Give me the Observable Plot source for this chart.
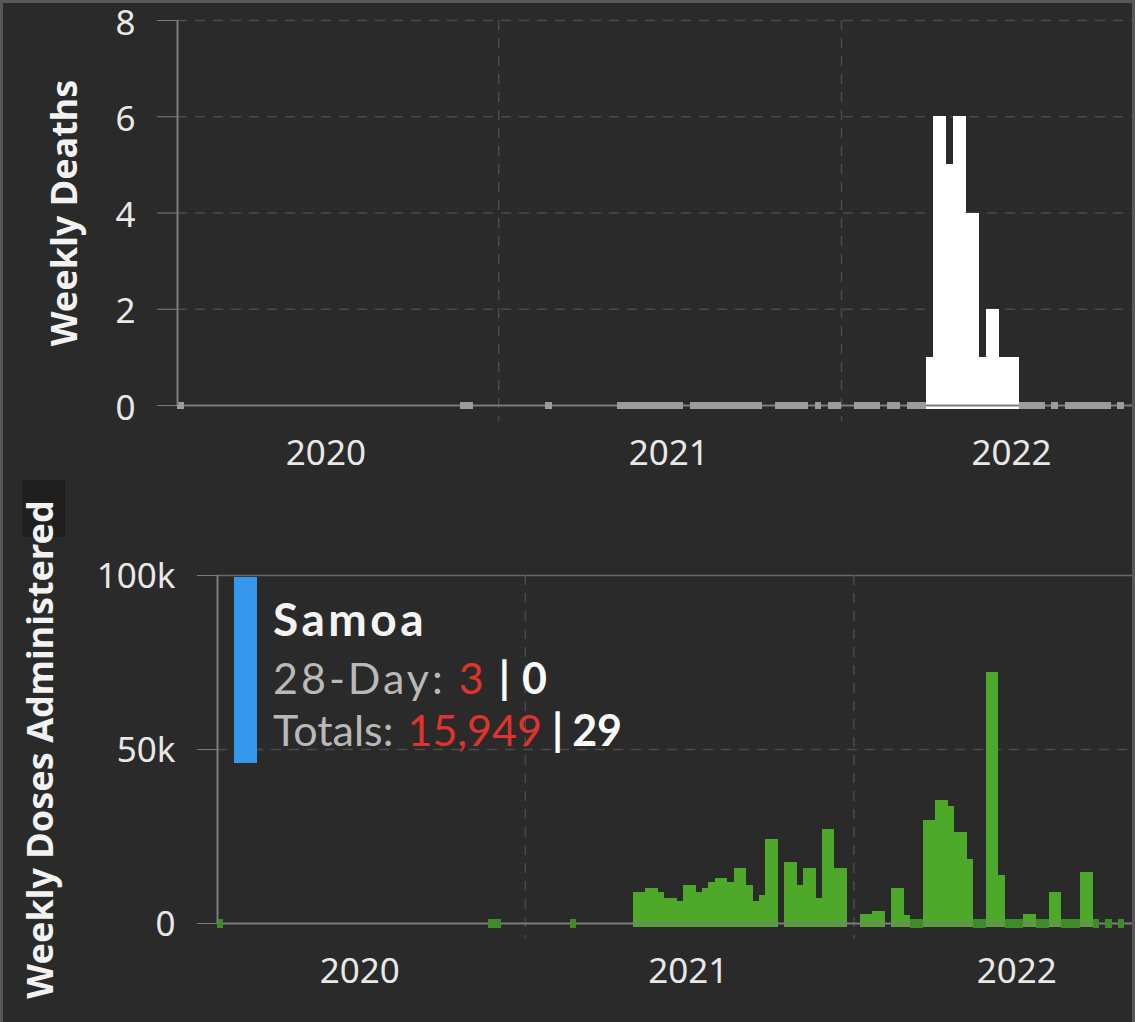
<!DOCTYPE html>
<html><head><meta charset="utf-8">
<script src="https://cdn.jsdelivr.net/npm/d3@7"></script>
<script src="https://cdn.jsdelivr.net/npm/@observablehq/plot@0.6"></script>
<style>
html,body{margin:0;padding:0;background:#2a2a2a;}
#wrap{position:relative;width:1135px;height:1022px;overflow:hidden;background:#2a2a2a;font-family:"Noto Sans",sans-serif;}
#top,#bottom{position:absolute;left:0;}
#top{top:0;}#bottom{top:470px;}
#labelbox{position:absolute;left:22px;top:480px;width:43px;height:57px;background:#1f1f1f;}
[aria-label="y-axis label"]{font-weight:700;font-size:36px;fill:#f2f2f2;}
#tip{position:absolute;left:234px;top:577px;font-family:Lato,sans-serif;}
#tip .bar{position:absolute;left:0;top:0;width:23px;height:186px;background:#3598ec;}
#tip .ln{position:absolute;left:39px;white-space:nowrap;line-height:1.2;}
#tip .l1{top:14px;font-size:46px;font-weight:700;color:#f4f4f4;letter-spacing:3.5px;}
#tip .l2{top:75px;font-size:43px;}
#tip .l3{top:127px;font-size:43px;}
#tip .ln span{display:inline-block;}
#tip .g{color:#b9b9b9;}
#tip .r{color:#e2322d;}
#tip .w{color:#fafafa;font-weight:700;}
.bd{position:absolute;background:#575757;}
</style></head><body>
<div id="wrap">
  <div id="labelbox"></div>
  <div id="top"></div>
  <div id="bottom"></div>
  <div id="tip"></div>
  <div class="bd" style="left:0;top:0;width:1135px;height:3px"></div>
  <div class="bd" style="left:0;top:0;width:3px;height:1022px"></div>
  <div class="bd" style="left:1132px;top:0;width:3px;height:1022px"></div>
</div>
<script>
// ---- data ----
const weekOrigin = "2020-01-25";          // first weekly bin
const domainEnd = "2022-11-10";
// weekly deaths (null = no report)
const deaths = [
  0, null,null,null,null,null,null,null,null,null,            // 0-9
  null,null,null,null,null,null,null,null,null,null,          // 10-19
  null,null,null,null,null,null,null,null,null,null,          // 20-29
  null,null,null,null,null,null,null,null,null,null,          // 30-39
  null,null,null,0,0,null,null,null,null,null,                // 40-49
  null,null,null,null,null,null,0,null,null,null,             // 50-59
  null,null,null,null,null,null,null,0,0,0,                   // 60-69
  0,0,0,0,0,0,0,null,0,0,                                     // 70-79
  0,0,0,0,0,0,0,0,0,null,                                     // 80-89
  null,0,0,0,0,0,null,0,null,0,                               // 90-99
  0,null,null,0,0,0,0,null,0,0,                               // 100-109
  null,0,0,0,1,6,6,5,6,6,                                     // 110-119
  4,4,1,2,2,1,1,1,0,0,                                        // 120-129
  0,0,null,0,null,0,0,0,0,0,                                  // 130-139
  0,0,null,0,null                                             // 140-144
];
// weekly doses administered (null = no report)
const doses = [
  0, null,null,null,null,null,null,null,null,null,
  null,null,null,null,null,null,null,null,null,null,
  null,null,null,null,null,null,null,null,null,null,
  null,null,null,null,null,null,null,null,null,null,
  null,null,null,0,0,null,null,null,null,null,
  null,null,null,null,null,null,0,null,null,null,
  null,null,null,null,null,null,9000,9000,10000,10000,         // 60-69
  8800,7300,7200,6300,10900,10900,9000,10100,11900,12800,      // 70-79
  12800,11900,15700,15700,10900,6300,8100,24100,24100,null,    // 80-89
  17600,17600,11000,15700,15700,7200,27000,27000,15700,15700,  // 90-99
  null,null,2600,2600,3400,3400,null,10000,10000,2300,         // 100-109
  0,0,29700,29700,35400,35400,33500,26100,26100,18400,         // 110-119
  0,0,72200,72200,13800,0,0,0,2500,2500,                       // 120-129
  0,0,9000,9000,0,0,0,14700,14700,0,                           // 130-139
  null,0,null,0,null                                           // 140-144
];
const yearLabelDates = ["2020-07-01","2021-07-01","2022-07-01"];
const yearBoundaries = ["2021-01-01","2022-01-01"];
const deathTicks = [0,2,4,6,8];
const doseTicks = [0,50000,100000];
const tipCountry = "Samoa";
const tip28Day = [3, 0];
const tipTotals = [15949, 29];

// ---- build ----
const origin = new Date(weekOrigin);
const xDomain = [origin, new Date(domainEnd)];
const toRows = vals => vals.map((v,i)=>({start:d3.utcDay.offset(origin,7*i), end:d3.utcDay.offset(origin,7*i+7), value:v}));
const deathRows = toRows(deaths), doseRows = toRows(doses);
const yl = yearLabelDates.map(d=>new Date(d));
const yb = yearBoundaries.map(d=>new Date(d));
const baseStyle = {fontFamily:"Noto Sans", fontSize:"35px", color:"#e8e8e8", background:"transparent", overflow:"visible"};
const grid = "#4b4b4b", axisCol = "#7c7c7c";

function chart({rows, yDomain, ticks, fmt, label, barFill, zeroFill, zeroH, width, height, mt, mb, ml, labelOffset, gridVals, solidVals, tickDy}) {
  const svg = Plot.plot({
    width, height, marginTop:mt, marginBottom:mb, marginLeft:ml, marginRight:0,
    style: baseStyle,
    x:{type:"utc", domain:xDomain},
    y:{domain:yDomain},
    marks:[
      Plot.ruleY(gridVals, {stroke:grid, strokeWidth:1.5, strokeDasharray:"10,8"}),
      Plot.ruleY(solidVals, {stroke:"#6a6a6a", strokeWidth:1.5}),
      Plot.ruleX(yb, {stroke:grid, strokeWidth:1.5, strokeDasharray:"10,8", insetBottom:-16}),
      Plot.rectY(rows.filter(d=>d.value>0), {x1:"start", x2:"end", y:"value", fill:barFill, insetBottom:-4, shapeRendering:"crispEdges"}),
      Plot.ruleY([0], {stroke:axisCol, strokeWidth:2}),
      Plot.rect(rows.filter(d=>d.value===0), {x1:"start", x2:"end", y1:d=>0, y2:d=>0, fill:zeroFill, insetTop:-zeroH/2, insetBottom:-zeroH/2, shapeRendering:"crispEdges"}),
      Plot.ruleX([origin], {y1:yDomain[0], y2:yDomain[1], stroke:axisCol, strokeWidth:2}),
      Plot.axisY({ticks, tickSize:20, stroke:axisCol, text:null, label:null}),
      Plot.axisY({ticks, tickFormat:fmt, tickSize:0, tickPadding:42, dy:tickDy, label, labelAnchor:"center", labelOffset, labelArrow:"none"}),
      Plot.axisX({ticks:yl, tickFormat:"%Y", tickSize:0, tickPadding:35, label:null})
    ]
  });
  // make sure the axis title carries no direction arrow
  svg.querySelectorAll('[aria-label="y-axis label"] text').forEach(t => { t.textContent = label; });
  return svg;
}

document.getElementById("top").append(chart({
  rows:deathRows, yDomain:[0,8], ticks:deathTicks, fmt:d=>String(d), label:"Weekly Deaths",
  barFill:"#ffffff", zeroFill:"#9c9c9c", zeroH:7, width:1135, height:470, mt:20, mb:65, ml:177,
  labelOffset:126, gridVals:[2,4,6,8], solidVals:[], tickDy:3
}));
document.getElementById("bottom").append(chart({
  rows:doseRows, yDomain:[0,100000], ticks:doseTicks, fmt:d3.format("~s"), label:"Weekly Doses Administered",
  barFill:"#4ea82a", zeroFill:"#3f8a2a", zeroH:9, width:1135, height:552, mt:105, mb:99, ml:217,
  labelOffset:190, gridVals:[50000], solidVals:[100000], tickDy:1
}));

const fmtN = d3.format(",");
document.getElementById("tip").innerHTML =
  `<div class="bar"></div>` +
  `<div class="ln l1">${tipCountry}</div>` +
  `<div class="ln l2"><span class="g" style="letter-spacing:3px">28-Day:</span><span class="r" style="margin-left:13px">${fmtN(tip28Day[0])}</span><span class="w" style="margin-left:15px">|</span><span class="w" style="margin-left:12px">${fmtN(tip28Day[1])}</span></div>` +
  `<div class="ln l3"><span class="g">Totals:</span><span class="r" style="margin-left:14px">${fmtN(tipTotals[0])}</span><span class="w" style="margin-left:10px">|</span><span class="w" style="margin-left:9px">${fmtN(tipTotals[1])}</span></div>`;
</script>
</body></html>
